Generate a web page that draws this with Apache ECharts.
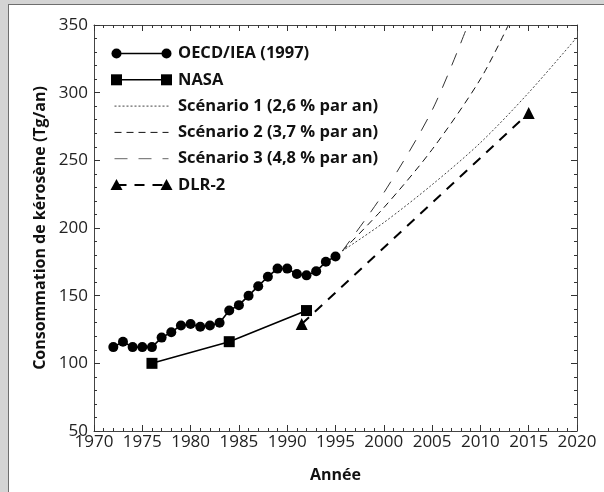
<!DOCTYPE html>
<html>
<head>
<meta charset="utf-8">
<script src="https://cdn.jsdelivr.net/npm/echarts@6/dist/echarts.min.js"></script>
<style>
html,body{margin:0;padding:0;background:#d4d4d4;overflow:hidden;}
#panel{position:absolute;left:8px;top:4px;width:620px;height:520px;background:#fff;border-left:1px solid #6e6e6e;border-top:1px solid #6e6e6e;}
#chart{position:absolute;left:0;top:0;width:604px;height:492px;}
</style>
</head>
<body>
<div id="panel"></div>
<div id="chart"></div>
<script>
// ---- data ----
const oecdYears = [1972,1973,1974,1975,1976,1977,1978,1979,1980,1981,1982,1983,1984,1985,1986,1987,1988,1989,1990,1991,1992,1993,1994,1995];
const oecdValues = [112,116,112,112,112,119,123,128,129,127,128,130,139,143,150,157,164,170,170,166,165,168,175,179];
const nasaYears = [1976,1984,1992];
const nasaValues = [100,116,139];
const dlrYears = [1991.5,2015];
const dlrValues = [129,285];
const scen1Years = [1995.7,2000,2005,2010,2015,2020];
const scen1Values = [183,204,232,263,300,341];
const scen2Years = [1995.7,2000,2005,2010,2012.9];
const scen2Values = [183,215,258,310,350];
const scen3Years = [1995.7,2000,2005,2008.7];
const scen3Values = [183,226,287,350];
const legendLabels = ['OECD/IEA (1997)','NASA','Scénario 1 (2,6 % par an)','Scénario 2 (3,7 % par an)','Scénario 3 (4,8 % par an)','DLR-2'];
const xTitle = 'Année';
const yTitle = 'Consommation de kérosène (Tg/an)';

const pairs = (xs, ys) => xs.map((x, i) => [x, ys[i]]);
const FONT = '"Open Sans", "DejaVu Sans", sans-serif';

const chart = echarts.init(document.getElementById('chart'), null, {renderer: 'canvas'});

function makeAxis(extra) {
  return Object.assign({
    type: 'value',
    axisLine: {show: true, onZero: false, lineStyle: {color: '#444', width: 1}},
    axisTick: {show: true, inside: true, length: 6, lineStyle: {color: '#333', width: 1}},
    minorTick: {show: true, splitNumber: 5, length: 3, lineStyle: {color: '#333', width: 1}},
    splitLine: {show: false},
    minorSplitLine: {show: false}
  }, extra);
}

// legend drawn with graphic elements
const lx1 = 116.5, lx2 = 166.5, ltx = 178, ly0 = 53.5, ldy = 26.3;
const g = [];
const rowY = i => ly0 + i * ldy;
g.push({type: 'line', shape: {x1: lx1, y1: rowY(0), x2: lx2, y2: rowY(0)}, style: {stroke: '#000', lineWidth: 1.6}});
g.push({type: 'circle', shape: {cx: lx1, cy: rowY(0), r: 5}, style: {fill: '#000'}});
g.push({type: 'circle', shape: {cx: lx2, cy: rowY(0), r: 5}, style: {fill: '#000'}});
g.push({type: 'line', shape: {x1: lx1, y1: rowY(1), x2: lx2, y2: rowY(1)}, style: {stroke: '#000', lineWidth: 1.6}});
g.push({type: 'rect', shape: {x: lx1 - 5.5, y: rowY(1) - 5.5, width: 11, height: 11}, style: {fill: '#000'}});
g.push({type: 'rect', shape: {x: lx2 - 5.5, y: rowY(1) - 5.5, width: 11, height: 11}, style: {fill: '#000'}});
g.push({type: 'line', shape: {x1: lx1 - 2, y1: rowY(2), x2: lx2 + 2, y2: rowY(2)}, style: {stroke: '#444', lineWidth: 1, lineDash: [2, 2]}});
g.push({type: 'line', shape: {x1: lx1 - 2, y1: rowY(3), x2: lx2 + 2, y2: rowY(3)}, style: {stroke: '#111', lineWidth: 1, lineDash: [7, 5]}});
g.push({type: 'line', shape: {x1: lx1 - 2, y1: rowY(4), x2: lx2 + 2, y2: rowY(4)}, style: {stroke: '#666', lineWidth: 1, lineDash: [13, 11]}});
g.push({type: 'line', shape: {x1: lx1, y1: rowY(5), x2: lx2, y2: rowY(5)}, style: {stroke: '#000', lineWidth: 2, lineDash: [10, 8]}});
g.push({type: 'polygon', shape: {points: [[lx1, rowY(5) - 6], [lx1 - 6, rowY(5) + 5], [lx1 + 6, rowY(5) + 5]]}, style: {fill: '#000'}});
g.push({type: 'polygon', shape: {points: [[lx2, rowY(5) - 6], [lx2 - 6, rowY(5) + 5], [lx2 + 6, rowY(5) + 5]]}, style: {fill: '#000'}});
legendLabels.forEach((t, i) => {
  g.push({type: 'text', x: ltx, y: rowY(i), style: {text: t, fill: '#111', font: 'bold 16.5px ' + FONT, textVerticalAlign: 'middle', textAlign: 'left'}});
});

const option = {
  animation: false,
  backgroundColor: 'transparent',
  grid: {left: 94, right: 27, top: 25, bottom: 61, containLabel: false},
  xAxis: [
    makeAxis({
      min: 1970, max: 2020, interval: 5, position: 'bottom',
      axisLabel: {show: true, color: '#222', fontFamily: FONT, fontSize: 17, margin: 3, formatter: v => String(v)},
      name: xTitle, nameLocation: 'middle', nameGap: 36,
      nameTextStyle: {fontFamily: FONT, fontWeight: 'bold', fontSize: 16, color: '#111'}
    }),
    makeAxis({min: 1970, max: 2020, interval: 5, position: 'top', axisLabel: {show: false}})
  ],
  yAxis: [
    makeAxis({
      min: 50, max: 350, interval: 50, position: 'left',
      axisLabel: {show: true, color: '#222', fontFamily: FONT, fontSize: 17, margin: 6, formatter: v => String(v)},
      name: yTitle, nameLocation: 'middle', nameGap: 42, nameRotate: 90,
      nameTextStyle: {fontFamily: FONT, fontWeight: 'bold', fontSize: 16, color: '#111'}
    }),
    makeAxis({min: 50, max: 350, interval: 50, position: 'right', axisLabel: {show: false}})
  ],
  graphic: g,
  series: [
    {type: 'line', name: 'Scénario 1', data: pairs(scen1Years, scen1Values), smooth: 0.3, showSymbol: false, symbol: 'none',
     lineStyle: {color: '#444', width: 1, type: [2, 2]}, z: 2},
    {type: 'line', name: 'Scénario 2', data: pairs(scen2Years, scen2Values), smooth: 0.3, showSymbol: false, symbol: 'none',
     lineStyle: {color: '#111', width: 1, type: [7, 5]}, z: 2},
    {type: 'line', name: 'Scénario 3', data: pairs(scen3Years, scen3Values), smooth: 0.3, showSymbol: false, symbol: 'none',
     lineStyle: {color: '#333', width: 1, type: [13, 11]}, z: 2},
    {type: 'line', name: 'DLR-2', data: pairs(dlrYears, dlrValues), symbol: 'triangle', symbolSize: 12,
     itemStyle: {color: '#000'}, lineStyle: {color: '#000', width: 2, type: [10, 8]}, z: 3},
    {type: 'line', name: 'NASA', data: pairs(nasaYears, nasaValues), symbol: 'rect', symbolSize: 11,
     itemStyle: {color: '#000'}, lineStyle: {color: '#000', width: 1.6}, z: 4},
    {type: 'line', name: 'OECD/IEA (1997)', data: pairs(oecdYears, oecdValues), symbol: 'circle', symbolSize: 10,
     itemStyle: {color: '#000'}, lineStyle: {color: '#000', width: 1.6}, z: 5}
  ]
};
chart.setOption(option);
</script>
</body>
</html>
